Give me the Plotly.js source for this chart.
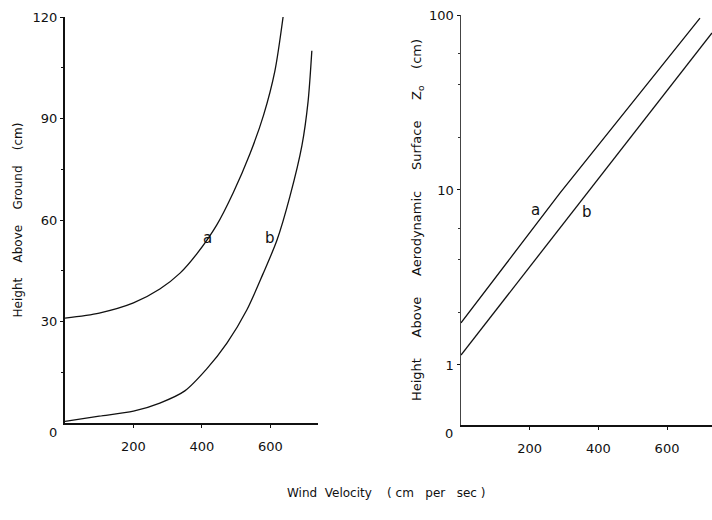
<!DOCTYPE html>
<html>
<head>
<meta charset="utf-8">
<script src="https://cdn.plot.ly/plotly-3.0.1.min.js"></script>
<style>html,body{margin:0;padding:0;background:#fff;}#chart{width:712px;height:520px;}</style>
</head>
<body>
<div id="chart"></div>
<script>
// Left panel: height above ground (cm) vs wind velocity (cm/sec)
const leftA_x = [0, 100, 200, 277, 336, 385, 443, 491, 540, 580, 613, 637];
const leftA_y = [31, 32.5, 35.5, 39.6, 44.3, 50, 58.5, 68, 79.5, 91, 104, 120];
const leftB_x = [0, 100, 200, 277, 350, 414, 473, 531, 578, 619, 657, 692, 710, 721];
const leftB_y = [0.5, 2, 3.5, 5.9, 9.5, 16, 23.6, 33.4, 44, 54, 67, 82, 95, 110];
// Right panel: height above aerodynamic surface Zo (cm), log scale
const rightA_x = [0, 288, 696];
const rightA_y = [1.74, 9.6, 96];
const rightB_x = [0, 367, 731];
const rightB_y = [1.14, 9.6, 79];

const leftYTicks = [30, 60, 90, 120];
const xTicks = [200, 400, 600];
const rightYTicks = [1, 10, 100];

const fnt = {family: 'DejaVu Sans', size: 13, color: '#111'};
const titleFont = {family: 'DejaVu Sans', size: 12, color: '#111'};
const lineStyle = {color: '#111', width: 1.3};

const traces = [
  {x: leftA_x, y: leftA_y, xaxis: 'x', yaxis: 'y', mode: 'lines', line: {...lineStyle, shape: 'spline', smoothing: 0.8}, hoverinfo: 'none'},
  {x: leftB_x, y: leftB_y, xaxis: 'x', yaxis: 'y', mode: 'lines', line: {...lineStyle, shape: 'spline', smoothing: 0.8}, hoverinfo: 'none'},
  {x: rightA_x, y: rightA_y, xaxis: 'x2', yaxis: 'y2', mode: 'lines', line: lineStyle, hoverinfo: 'none'},
  {x: rightB_x, y: rightB_y, xaxis: 'x2', yaxis: 'y2', mode: 'lines', line: lineStyle, hoverinfo: 'none'}
];

const axBase = {showgrid: false, zeroline: false, showline: true, linecolor: '#111', ticks: 'outside', ticklen: 3, tickcolor: '#111', tickfont: fnt};

const layout = {
  width: 712, height: 520,
  margin: {l: 0, r: 0, t: 0, b: 0},
  paper_bgcolor: '#fff', plot_bgcolor: '#fff',
  showlegend: false,
  xaxis: {...axBase, domain: [65/712, 318/712], range: [0, 739], tickvals: xTicks, linewidth: 2, anchor: 'y', ticklabelstandoff: 7},
  yaxis: {...axBase, domain: [1-423/520, 1-17/520], range: [0, 120], tickvals: leftYTicks, linewidth: 2, anchor: 'x',
    minor: {tickvals: [15, 45, 75, 105], ticklen: 2, tickcolor: '#111', ticks: 'outside'},
    title: {text: 'Height    Above    Ground    (cm)', font: titleFont, standoff: 7}},
  xaxis2: {...axBase, domain: [461/712, 1], range: [0, 731], tickvals: xTicks, linewidth: 2, anchor: 'y2', ticklabelstandoff: 7},
  yaxis2: {...axBase, type: 'log', domain: [1-425/520, 1-15/520], range: [-0.343, 2], tickvals: rightYTicks, linewidth: 1.5, linecolor: '#444', anchor: 'x2',
    minor: {tickvals: [2, 4, 6, 20, 40, 60], ticklen: 2, tickcolor: '#333', ticks: 'outside'},
    title: {text: 'Height     Above     Aerodynamic     Surface     Z<sub>o</sub>    (cm)', font: {family: 'DejaVu Sans', size: 13, color: '#111'}, standoff: 4}},
  annotations: [
    {xref: 'x', yref: 'y', x: 415, y: 54.7, text: 'a', showarrow: false, font: {family: 'DejaVu Sans', size: 15, color: '#111'}},
    {xref: 'x', yref: 'y', x: 599, y: 54.7, text: 'b', showarrow: false, font: {family: 'DejaVu Sans', size: 15, color: '#111'}},
    {xref: 'x2', yref: 'y2', x: 216, y: 0.886, text: 'a', showarrow: false, font: {family: 'DejaVu Sans', size: 15, color: '#111'}},
    {xref: 'x2', yref: 'y2', x: 367, y: 0.874, text: 'b', showarrow: false, font: {family: 'DejaVu Sans', size: 15, color: '#111'}},
    {xref: 'paper', yref: 'paper', x: 53/712, y: 1-432/520, xanchor: 'center', yanchor: 'middle', text: '0', showarrow: false, font: fnt},
    {xref: 'paper', yref: 'paper', x: 449/712, y: 1-433/520, xanchor: 'center', yanchor: 'middle', text: '0', showarrow: false, font: fnt},
    {xref: 'paper', yref: 'paper', x: 386/712, y: 1-493/520, xanchor: 'center', yanchor: 'middle', text: 'Wind  Velocity    ( cm   per   sec )', showarrow: false, font: titleFont}
  ]
};

Plotly.newPlot('chart', traces, layout, {staticPlot: true, displayModeBar: false});
</script>
</body>
</html>
